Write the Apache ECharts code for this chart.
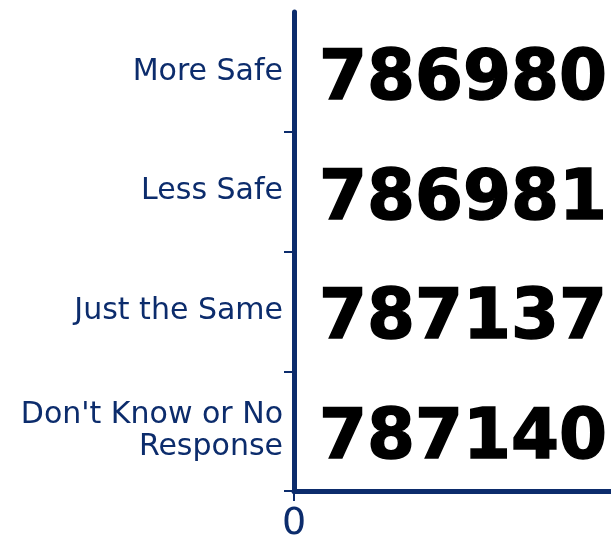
<!DOCTYPE html>
<html>
<head>
    <meta charset="utf-8" />
    <script src="https://cdn.jsdelivr.net/npm/echarts@6/dist/echarts.min.js"></script>
    <title>safety_chart</title>
    <style>
        html, body { margin: 0; padding: 0; background: #fff; }
    </style>
</head>

<body>
<div id="main" style="width:611px; height:536px;"></div>
<script type="text/javascript">
    let categories = ['More Safe', 'Less Safe', 'Just the Same', "Don't Know or No\nResponse"];
    let values = [786980, 786981, 787137, 787140];
    let axisColor = '#0c2c6c';

    let myChart = echarts.init(document.getElementById('main'));

    option = {
        animation: false,
        grid: {
            left: 294,
            right: -20,
            top: 12,
            bottom: 45,
            outerBoundsMode: 'none',
            containLabel: false
        },
        xAxis: {
            type: 'value',
            min: 0,
            max: 1000000,
            interval: 1000000,
            splitLine: { show: false },
            axisLine: {
                show: true,
                lineStyle: { color: axisColor, width: 5 }
            },
            axisTick: {
                show: true,
                length: 10,
                lineStyle: { color: axisColor, width: 2 }
            },
            axisLabel: {
                showMaxLabel: false,
                margin: 14,
                color: axisColor,
                fontFamily: 'DejaVu Sans',
                fontSize: 38
            }
        },
        yAxis: {
            type: 'category',
            inverse: true,
            data: categories,
            axisLine: {
                show: true,
                lineStyle: { color: axisColor, width: 5 }
            },
            axisTick: {
                show: true,
                length: 10,
                interval: function (index) {
                    return index !== 0;
                },
                lineStyle: { color: axisColor, width: 2 }
            },
            axisLabel: {
                margin: 11,
                color: axisColor,
                fontFamily: 'DejaVu Sans',
                fontSize: 30,
                lineHeight: 32,
                padding: [6, 0, 0, 0],
                align: 'right',
                interval: 0
            }
        },
        series: [{
            type: 'bar',
            data: values,
            barWidth: '60%',
            itemStyle: { color: 'rgba(0,0,0,0)' },
            label: {
                show: true,
                position: 'insideLeft',
                distance: 25,
                offset: [0, 9],
                color: '#000',
                textBorderColor: '#000',
                textBorderWidth: 1.5,
                fontFamily: 'DejaVu Sans',
                fontWeight: 'bold',
                fontSize: 69
            }
        }]
    };
    myChart.setOption(option);
</script>
</body>
</html>
